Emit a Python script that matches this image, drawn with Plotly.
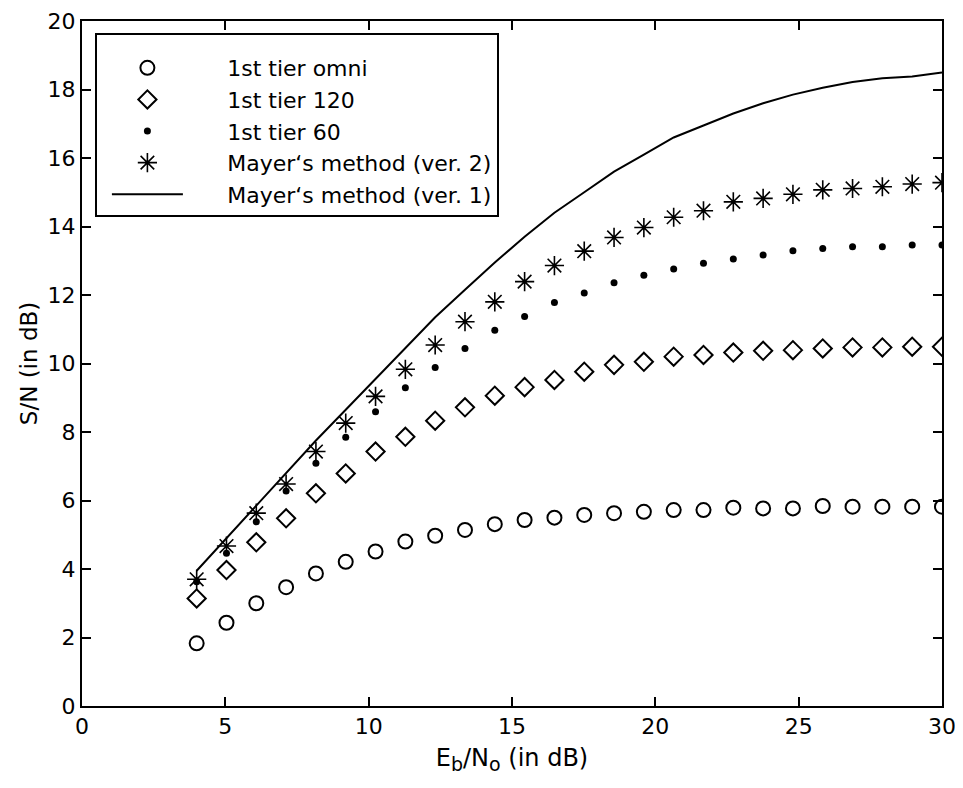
import plotly.graph_objects as go

eb_no = [4, 5.04, 6.08, 7.12, 8.16, 9.2, 10.24, 11.28, 12.32, 13.36, 14.4, 15.44, 16.48,
         17.52, 18.56, 19.6, 20.64, 21.68, 22.72, 23.76, 24.8, 25.84, 26.88, 27.92, 28.96, 30]

tier_omni = [1.83, 2.43, 3.00, 3.47, 3.87, 4.21, 4.51, 4.80, 4.97, 5.14, 5.31, 5.43, 5.50,
             5.58, 5.63, 5.67, 5.72, 5.72, 5.79, 5.77, 5.77, 5.84, 5.82, 5.82, 5.82, 5.82]
tier_120 = [3.14, 3.97, 4.78, 5.48, 6.21, 6.79, 7.43, 7.86, 8.33, 8.72, 9.06, 9.31, 9.52,
            9.76, 9.96, 10.05, 10.20, 10.25, 10.32, 10.37, 10.39, 10.44, 10.47, 10.47, 10.49, 10.49]
tier_60 = [3.63, 4.46, 5.38, 6.28, 7.09, 7.85, 8.59, 9.29, 9.88, 10.44, 10.97, 11.37, 11.78,
           12.06, 12.36, 12.58, 12.76, 12.93, 13.05, 13.17, 13.29, 13.36, 13.41, 13.41, 13.46, 13.46]
mayer_v2 = [3.70, 4.67, 5.63, 6.48, 7.43, 8.26, 9.04, 9.83, 10.54, 11.22, 11.80, 12.39, 12.86,
            13.28, 13.68, 13.97, 14.27, 14.46, 14.72, 14.82, 14.94, 15.07, 15.11, 15.16, 15.24, 15.28]
mayer_v1 = [3.95, 4.90, 5.85, 6.80, 7.75, 8.65, 9.55, 10.45, 11.35, 12.15, 12.95, 13.70, 14.40,
            15.00, 15.60, 16.10, 16.60, 16.95, 17.30, 17.60, 17.85, 18.05, 18.22, 18.33, 18.38, 18.50]

names = ["1st tier omni", "1st tier 120", "1st tier 60",
         "Mayer\u2018s method (ver. 2)", "Mayer\u2018s method (ver. 1)"]

x_ticks = [0, 5, 10, 15, 20, 25, 30]
y_ticks = [0, 2, 4, 6, 8, 10, 12, 14, 16, 18, 20]

FONT = "DejaVu Sans"
FS = 22
pad = "\u00a0" * 5 + "\u2009"

fig = go.Figure()
fig.add_trace(go.Scatter(x=eb_no, y=tier_omni, mode="markers", name=pad + names[0],
                         marker=dict(symbol="circle-open", size=14, color="black",
                                     line=dict(width=2, color="black"))))
fig.add_trace(go.Scatter(x=eb_no, y=tier_120, mode="markers", name=pad + names[1],
                         marker=dict(symbol="diamond-open", size=14, color="black",
                                     line=dict(width=2, color="black"))))
fig.add_trace(go.Scatter(x=eb_no, y=tier_60, mode="markers", name=pad + names[2],
                         marker=dict(symbol="circle", size=7, color="black")))
fig.add_trace(go.Scatter(x=eb_no, y=mayer_v2, mode="markers", name=pad + names[3],
                         marker=dict(symbol="asterisk-open", size=16, color="black",
                                     line=dict(width=1.6, color="black"))))
fig.add_trace(go.Scatter(x=eb_no, y=mayer_v1, mode="lines", name=pad + names[4],
                         line=dict(color="black", width=2)))

axis_common = dict(showgrid=False, zeroline=False, showline=True, linecolor="black",
                   linewidth=2, mirror="ticks", ticks="inside", ticklen=9, tickwidth=2,
                   tickcolor="black", automargin=False,
                   tickfont=dict(family=FONT, size=FS, color="black"))

x_title = ("\u00a0" * 4 + "E<sub><span style='font-size:19px'>b</span></sub>/"
           "N<sub><span style='font-size:19px'>o</span></sub> (in dB)")

fig.update_xaxes(range=[0, 30], tickvals=x_ticks, ticktext=[str(v) for v in x_ticks],
                 title=dict(text=x_title,
                            font=dict(family=FONT, size=24, color="black"), standoff=11),
                 **axis_common)
fig.update_yaxes(range=[0, 20], tickvals=y_ticks, ticktext=[str(v) for v in y_ticks],
                 title=dict(text="S/N (in dB)",
                            font=dict(family=FONT, size=23, color="black"), standoff=4),
                 **axis_common)

# page body has an 8px default margin; compensate so the plot box lands where the reference has it
fig.update_layout(
    width=963, height=788,
    margin=dict(l=74, r=29, t=13, b=90),
    paper_bgcolor="white", plot_bgcolor="white",
    font=dict(family=FONT, size=FS, color="black"),
    legend=dict(x=0.015, y=0.982, xanchor="left", yanchor="top",
                bordercolor="black", borderwidth=2, bgcolor="white",
                itemwidth=71, indentation=10,
                title=dict(text="\u00a0", font=dict(size=9)),
                font=dict(family=FONT, size=FS, color="black"),
                traceorder="normal"),
    showlegend=True,
)

fig.write_html("out.html")
